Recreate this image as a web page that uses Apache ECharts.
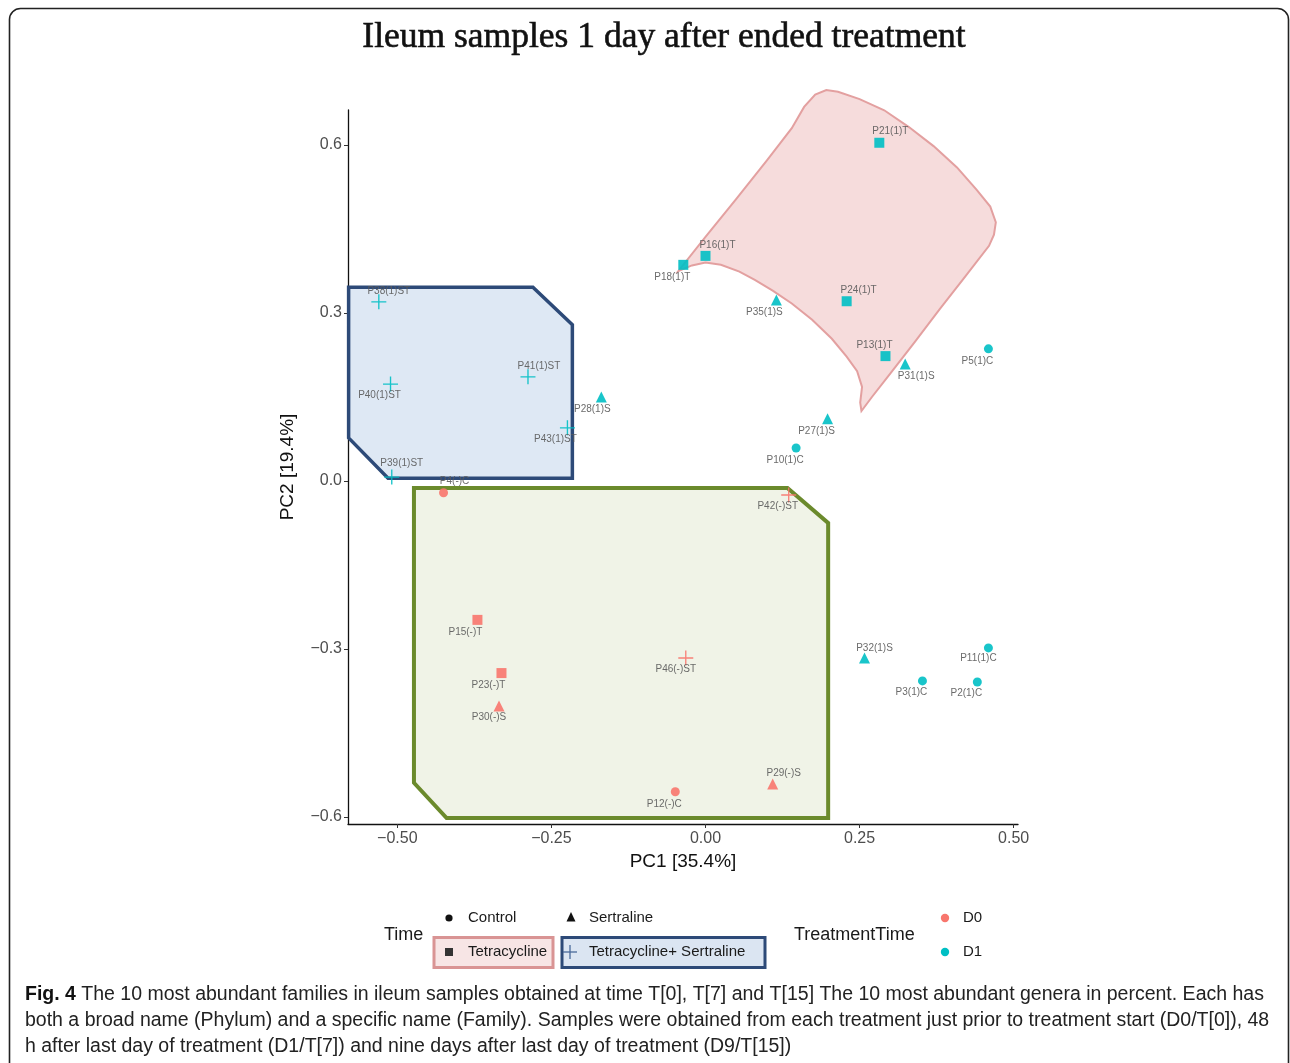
<!DOCTYPE html>
<html><head><meta charset="utf-8">
<script src="https://cdn.jsdelivr.net/npm/echarts@6/dist/echarts.min.js"></script>
<style>html,body{margin:0;padding:0;background:#fff}#c{width:1290px;height:1063px}</style>
</head><body><div id="c"></div>
<script>
// ---------------- data ----------------
const sampleNames = ['P21(1)T','P16(1)T','P18(1)T','P24(1)T','P13(1)T','P35(1)S','P31(1)S','P5(1)C','P27(1)S','P10(1)C',
  'P28(1)S','P38(1)ST','P40(1)ST','P41(1)ST','P43(1)ST','P39(1)ST','P32(1)S','P11(1)C','P3(1)C','P2(1)C',
  'P4(-)C','P15(-)T','P23(-)T','P30(-)S','P12(-)C','P29(-)S','P46(-)ST','P42(-)ST'];
const pc1 = [0.282,0.000,-0.036,0.229,0.292,0.115,0.324,0.459,0.198,0.147,
  -0.169,-0.530,-0.511,-0.288,-0.224,-0.509,0.258,0.459,0.352,0.441,
  -0.425,-0.370,-0.331,-0.335,-0.049,0.109,-0.032,0.135];
const pc2 = [0.604,0.402,0.386,0.321,0.223,0.323,0.209,0.236,0.111,0.059,
  0.150,0.320,0.173,0.186,0.095,0.007,-0.316,-0.298,-0.357,-0.359,
  -0.021,-0.248,-0.343,-0.402,-0.555,-0.541,-0.316,-0.025];
const timeGroup = ['Tetracycline','Tetracycline','Tetracycline','Tetracycline','Tetracycline','Sertraline','Sertraline','Control','Sertraline','Control',
  'Sertraline','Tetracycline+ Sertraline','Tetracycline+ Sertraline','Tetracycline+ Sertraline','Tetracycline+ Sertraline','Tetracycline+ Sertraline','Sertraline','Control','Control','Control',
  'Control','Tetracycline','Tetracycline','Sertraline','Control','Sertraline','Tetracycline+ Sertraline','Tetracycline+ Sertraline'];
const treatmentTime = ['D1','D1','D1','D1','D1','D1','D1','D1','D1','D1',
  'D1','D1','D1','D1','D1','D1','D1','D1','D1','D1',
  'D0','D0','D0','D0','D0','D0','D0','D0'];
const xTicks = [-0.5,-0.25,0,0.25,0.5];
const yTicks = [-0.6,-0.3,0,0.3,0.6];
const timeLevels = ['Control','Sertraline','Tetracycline','Tetracycline+ Sertraline'];
const treatmentLevels = ['D0','D1'];
// group outlines (data coordinates)
const hullTetracyclineD1 = [[-0.044,0.375],[0.000,0.436],[0.050,0.504],[0.100,0.573],[0.140,0.630],[0.160,0.668],[0.178,0.690],[0.196,0.698],
  [0.215,0.695],[0.250,0.682],[0.290,0.662],[0.330,0.632],[0.370,0.598],[0.408,0.560],[0.440,0.520],[0.462,0.490],[0.471,0.462],[0.468,0.440],
  [0.460,0.420],[0.420,0.363],[0.380,0.307],[0.340,0.249],[0.300,0.192],[0.270,0.150],[0.253,0.125],[0.251,0.140],[0.254,0.168],
  [0.246,0.196],[0.229,0.222],[0.205,0.254],[0.173,0.288],[0.140,0.317],[0.109,0.340],[0.080,0.359],[0.055,0.374],[0.025,0.386],
  [0.000,0.390],[-0.022,0.385],[-0.044,0.375]];
const hullTetSertD1 = [[-0.579,0.346],[-0.280,0.346],[-0.216,0.279],[-0.216,0.005],[-0.515,0.005],[-0.579,0.077]];
const hullD0 = [[-0.473,-0.0125],[0.133,-0.0125],[0.199,-0.075],[0.199,-0.602],[-0.420,-0.602],[-0.473,-0.539]];

// ---------------- styles ----------------
const colorOf = {D0:'#F8766D', D1:'#00BFC4'};
const plusPath = 'path://M4.55,0H5.45V4.55H10V5.45H5.45V10H4.55V5.45H0V4.55H4.55Z';
const symbolOf = {'Control':['circle',9],'Sertraline':['triangle',11],'Tetracycline':['rect',10],'Tetracycline+ Sertraline':[plusPath,15]};
const labelNudge = {
  'P21(1)T':[11,-12],'P16(1)T':[12,-11],'P18(1)T':[-11,12],'P24(1)T':[12,-11],'P13(1)T':[-11,-11],'P35(1)S':[-12,12],
  'P31(1)S':[11,12],'P5(1)C':[-11,12],'P27(1)S':[-11,12],'P10(1)C':[-11,12],'P28(1)S':[-9,12],'P38(1)ST':[10,-11],
  'P40(1)ST':[-11,11],'P41(1)ST':[11,-11],'P43(1)ST':[-12,11],'P39(1)ST':[10,-14],'P32(1)S':[10,-10],'P11(1)C':[-10,10],
  'P3(1)C':[-11,11],'P2(1)C':[-11,11],'P4(-)C':[11,-12],'P15(-)T':[-12,12],'P23(-)T':[-13,12],'P30(-)S':[-10,11],
  'P12(-)C':[-11,12],'P29(-)S':[11,-11],'P46(-)ST':[-10,11],'P42(-)ST':[-11,11]
};

const points = sampleNames.map((n,i)=>{
  const s = symbolOf[timeGroup[i]];
  return {
    name:n, value:[pc1[i],pc2[i]], symbol:s[0], symbolSize:s[1],
    itemStyle:{color:colorOf[treatmentTime[i]], opacity:0.9},
    label:{show:true, formatter:n, position:'inside', offset:labelNudge[n]||[0,12],
      color:'#5a5a5a', fontSize:10, fontFamily:'Liberation Sans, Arial, sans-serif'}
  };
});

function hullSeries(verts, fill, stroke, lw){
  return {type:'custom', coordinateSystem:'cartesian2d', silent:true, z:1, clip:false,
    data:[verts[0]],
    renderItem:(params, api)=>({type:'polygon',
      shape:{points: verts.map(v=>api.coord(v))},
      style:{fill:fill, stroke:stroke, lineWidth:lw, lineJoin:'miter'}})
  };
}
const fmt = d => v => (v<0?'\u2212':'') + Math.abs(v).toFixed(d);
const fontSans = 'Liberation Sans, Arial, sans-serif';
const capFont = '19.5px ' + fontSans;

const chart = echarts.init(document.getElementById('c'), null, {renderer:'canvas'});
const legendText = (t,x,y,size) => ({type:'text', x:x, y:y, style:{text:t, font:size+'px '+fontSans, fill:'#1a1a1a', verticalAlign:'middle'}});
chart.setOption({
  animation:false,
  backgroundColor:'#fff',
  grid:{left:348, top:110, width:670, height:714, containLabel:false},
  xAxis:{type:'value', min:-0.58, max:0.507, name:'PC1 [35.4%]', nameLocation:'middle', nameGap:27,
    nameTextStyle:{fontSize:19, color:'#111', fontFamily:fontSans},
    axisLine:{onZero:false, lineStyle:{color:'#111', width:1.3}},
    axisTick:{show:true, length:4, customValues:xTicks, lineStyle:{color:'#333'}},
    axisLabel:{customValues:xTicks, formatter:fmt(2), color:'#4d4d4d', fontSize:16, margin:7, fontFamily:fontSans},
    splitLine:{show:false}},
  yAxis:{type:'value', min:-0.6125, max:0.6625, name:'PC2 [19.4%]', nameLocation:'middle', nameGap:51, nameRotate:90,
    nameTextStyle:{fontSize:19, color:'#111', fontFamily:fontSans},
    axisLine:{onZero:false, lineStyle:{color:'#111', width:1.3}},
    axisTick:{show:true, length:4, customValues:yTicks, lineStyle:{color:'#333'}},
    axisLabel:{customValues:yTicks, formatter:fmt(1), color:'#4d4d4d', fontSize:16, margin:6, fontFamily:fontSans},
    splitLine:{show:false}},
  series:[
    hullSeries(hullTetracyclineD1,'rgba(240,196,196,0.6)','#e3a0a0',2),
    hullSeries(hullTetSertD1,'rgba(205,219,238,0.65)','#2d4a78',3.5),
    hullSeries(hullD0,'rgba(232,236,218,0.65)','#6b8a2c',4),
    {type:'scatter', z:3, data:points}
  ],
  graphic:[
    {type:'rect', z:-10, shape:{x:9.5,y:8.5,width:1279,height:1100,r:11}, style:{fill:'none', stroke:'#222', lineWidth:1.6}},
    {type:'text', x:664, y:38, style:{text:'Ileum samples 1 day after ended treatment', font:'35.5px "Liberation Serif", "DejaVu Serif", serif', fill:'#111', stroke:'#111', lineWidth:0.6, align:'center', verticalAlign:'middle'}},
    // legend: Time
    legendText('Time',384,935,18),
    {type:'rect', shape:{x:434,y:937.5,width:119,height:30}, style:{fill:'#f7e5e5', stroke:'#d99494', lineWidth:3}},
    {type:'rect', shape:{x:562,y:937.5,width:203,height:30}, style:{fill:'#dbe5f2', stroke:'#2d4a78', lineWidth:3}},
    {type:'circle', shape:{cx:449,cy:918,r:3.6}, style:{fill:'#111'}},
    legendText(timeLevels[0],468,918,15),
    {type:'polygon', shape:{points:[[571,912],[566.5,921.5],[575.5,921.5]]}, style:{fill:'#111'}},
    legendText(timeLevels[1],589,918,15),
    {type:'rect', shape:{x:445,y:948,width:8,height:8}, style:{fill:'#333'}},
    legendText(timeLevels[2],468,952,15),
    {type:'line', shape:{x1:570,y1:945,x2:570,y2:959}, style:{stroke:'#4a6a9a', lineWidth:1.3}},
    {type:'line', shape:{x1:563,y1:952,x2:577,y2:952}, style:{stroke:'#4a6a9a', lineWidth:1.3}},
    legendText(timeLevels[3],589,952,15),
    // legend: TreatmentTime
    legendText('TreatmentTime',794,935,18),
    {type:'circle', shape:{cx:945,cy:918,r:4.2}, style:{fill:colorOf.D0}},
    legendText(treatmentLevels[0],963,918,15),
    {type:'circle', shape:{cx:945,cy:952,r:4.2}, style:{fill:colorOf.D1}},
    legendText(treatmentLevels[1],963,952,15),
    // caption
    {type:'text', x:25, y:995, style:{text:'{b|Fig. 4} The 10 most abundant families in ileum samples obtained at time T[0], T[7] and T[15] The 10 most abundant genera in percent. Each has',
      font:capFont, fill:'#222', verticalAlign:'middle', rich:{b:{fontWeight:'bold', fontSize:19.5, fontFamily:fontSans, fill:'#111'}}}},
    {type:'text', x:25, y:1021, style:{text:'both a broad name (Phylum) and a specific name (Family). Samples were obtained from each treatment just prior to treatment start (D0/T[0]), 48',
      font:capFont, fill:'#222', verticalAlign:'middle'}},
    {type:'text', x:25, y:1047, style:{text:'h after last day of treatment (D1/T[7]) and nine days after last day of treatment (D9/T[15])',
      font:capFont, fill:'#222', verticalAlign:'middle'}}
  ]
});
</script></body></html>
